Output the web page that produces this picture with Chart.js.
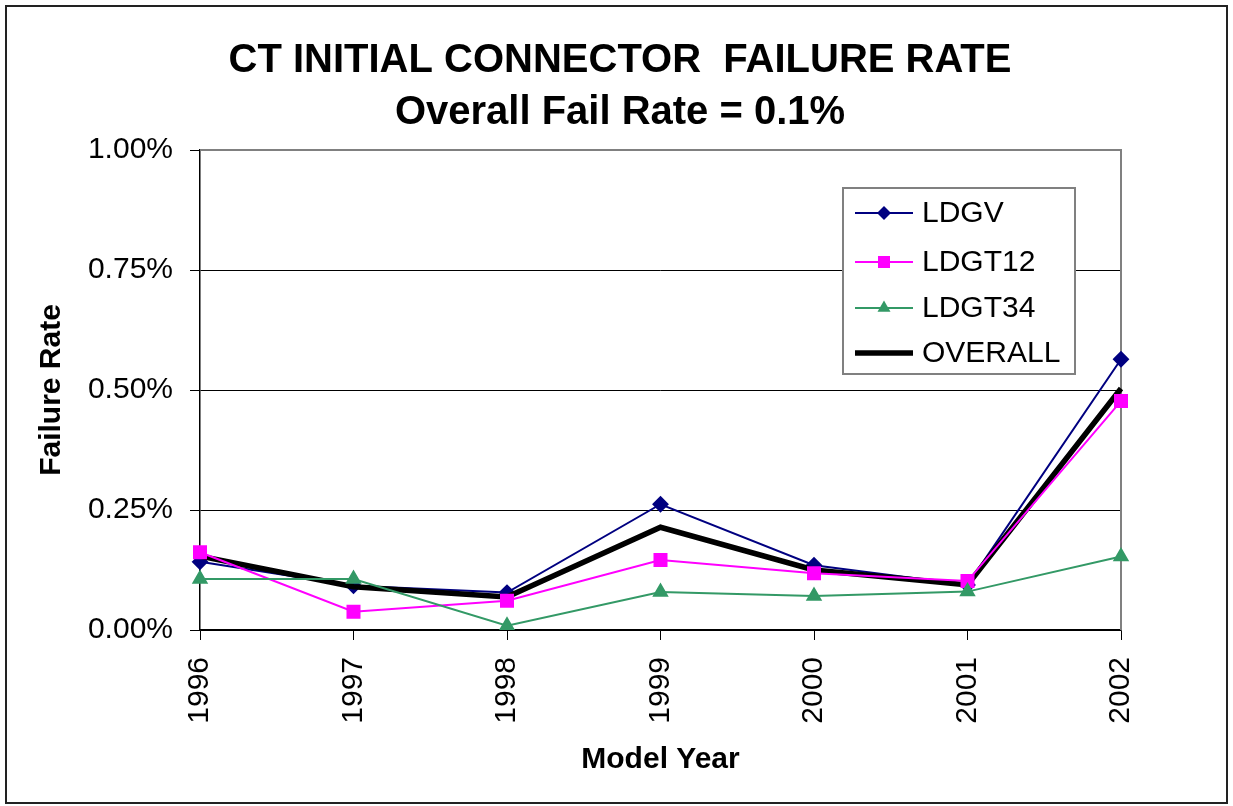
<!DOCTYPE html>
<html>
<head>
<meta charset="utf-8">
<script src="https://cdn.jsdelivr.net/npm/chart.js@4/dist/chart.umd.min.js"></script>
<style>
  body { margin: 0; background: #fff; }
  #wrap { width: 1233px; height: 806px; }
</style>
</head>
<body>
<div id="wrap"><canvas id="failChart" width="1233" height="806"></canvas></div>
<script>
// model years on the category axis
var years = ['1996', '1997', '1998', '1999', '2000', '2001', '2002'];

// failure rate in percent
var ldgv    = [0.142, 0.092, 0.078, 0.262, 0.135, 0.094, 0.564];
var ldgt12  = [0.162, 0.038, 0.061, 0.146, 0.118, 0.102, 0.477];
var ldgt34  = [0.106, 0.106, 0.009, 0.079, 0.071, 0.080, 0.153];
var overall = [0.154, 0.090, 0.069, 0.214, 0.125, 0.094, 0.503];

var titleLines = ['CT INITIAL CONNECTOR  FAILURE RATE', 'Overall Fail Rate = 0.1%'];
var yTicks = [0, 0.25, 0.5, 0.75, 1.0];

const FONT = '"Liberation Sans", Arial, sans-serif';

// marker drawing shared by the legend box
function drawMarker(ctx, style, x, y, r, color) {
  ctx.save();
  ctx.fillStyle = color;
  ctx.beginPath();
  if (style === 'rectRot') {
    ctx.moveTo(x - r, y); ctx.lineTo(x, y - r); ctx.lineTo(x + r, y); ctx.lineTo(x, y + r);
  } else if (style === 'rect') {
    var s = r * Math.SQRT1_2;
    ctx.rect(x - s, y - s, 2 * s, 2 * s);
  } else if (style === 'triangle') {
    ctx.moveTo(x, y - r);
    ctx.lineTo(x + Math.sin(2 * Math.PI / 3) * r, y + r / 2);
    ctx.lineTo(x - Math.sin(2 * Math.PI / 3) * r, y + r / 2);
  }
  ctx.closePath();
  ctx.fill();
  ctx.restore();
}

// frame, title, grey plot border and the boxed legend inside the plot
var decorPlugin = {
  id: 'decor',
  beforeDraw: function(chart) {
    var ctx = chart.ctx;
    ctx.save();
    ctx.fillStyle = '#fff';
    ctx.fillRect(0, 0, chart.width, chart.height);
    ctx.strokeStyle = '#222';
    ctx.lineWidth = 2;
    ctx.strokeRect(6, 6, chart.width - 12, chart.height - 9);

    ctx.fillStyle = '#000';
    ctx.font = 'bold 40px ' + FONT;
    ctx.textAlign = 'center';
    ctx.textBaseline = 'middle';
    ctx.fillText(titleLines[0], 620, 61);
    ctx.fillText(titleLines[1], 620, 113);
    ctx.restore();
  },
  beforeDatasetsDraw: function(chart) {
    var ctx = chart.ctx, a = chart.chartArea;
    ctx.save();
    ctx.strokeStyle = '#808080';
    ctx.lineWidth = 2;
    ctx.beginPath();
    ctx.moveTo(a.left, a.top);
    ctx.lineTo(a.right, a.top);
    ctx.lineTo(a.right, a.bottom);
    ctx.stroke();
    ctx.restore();
  },
  afterDraw: function(chart) {
    var ctx = chart.ctx, a = chart.chartArea;
    var bx = a.right - 278, by = a.top + 38, bw = 232, bh = 186;
    ctx.save();
    ctx.fillStyle = '#fff';
    ctx.fillRect(bx, by, bw, bh);
    ctx.strokeStyle = '#808080';
    ctx.lineWidth = 2;
    ctx.strokeRect(bx, by, bw, bh);
    ctx.font = '30px ' + FONT;
    ctx.textAlign = 'left';
    ctx.textBaseline = 'middle';
    var rows = [25, 74, 120, 165];
    chart.data.datasets.forEach(function(ds, i) {
      var y = by + rows[i];
      ctx.strokeStyle = ds.borderColor;
      ctx.lineWidth = ds.borderWidth;
      ctx.beginPath();
      ctx.moveTo(bx + 12, y);
      ctx.lineTo(bx + 70, y);
      ctx.stroke();
      if (ds.pointRadius > 0) {
        drawMarker(ctx, ds.pointStyle, bx + 41, y, ds.pointRadius, ds.borderColor);
      }
      ctx.fillStyle = '#000';
      ctx.fillText(ds.label, bx + 79, y + 1);
    });
    ctx.restore();
  }
};

var config = {
  type: 'line',
  data: {
    labels: years,
    datasets: [
      { label: 'LDGV', data: ldgv, borderColor: '#000080', backgroundColor: '#000080',
        borderWidth: 2, pointStyle: 'rectRot', pointRadius: 7, order: 4 },
      { label: 'LDGT12', data: ldgt12, borderColor: '#FF00FF', backgroundColor: '#FF00FF',
        borderWidth: 2, pointStyle: 'rect', pointRadius: 8.5, order: 2 },
      { label: 'LDGT34', data: ldgt34, borderColor: '#339966', backgroundColor: '#339966',
        borderWidth: 2, pointStyle: 'triangle', pointRadius: 7.5, order: 1 },
      { label: 'OVERALL', data: overall, borderColor: '#000000', backgroundColor: '#000000',
        borderWidth: 5.5, pointRadius: 0, order: 3 }
    ]
  },
  options: {
    responsive: false,
    animation: false,
    events: [],
    elements: {
      line: { tension: 0, fill: false },
      point: { borderWidth: 0, hoverRadius: 0 }
    },
    layout: { padding: { left: 0, right: 112, top: 150, bottom: 0 } },
    plugins: {
      legend: { display: false },
      title: { display: false },
      tooltip: { enabled: false }
    },
    scales: {
      x: {
        offset: false,
        afterFit: function(scale) { scale.height = 176; },
        grid: { drawOnChartArea: false, drawTicks: true, tickLength: 10, color: '#000', lineWidth: 1 },
        border: { color: '#000', width: 1.5 },
        ticks: {
          autoSkip: false, minRotation: 90, maxRotation: 90, padding: 17,
          color: '#000', font: { family: FONT, size: 30 }
        },
        title: {
          display: true, text: 'Model Year', color: '#000',
          font: { family: FONT, size: 30, weight: 'bold' },
          padding: { top: 0, bottom: 28 }
        }
      },
      y: {
        min: 0,
        max: 1.0,
        afterFit: function(scale) { scale.width = 200; },
        afterBuildTicks: function(scale) {
          scale.ticks = yTicks.map(function(v) { return { value: v }; });
        },
        grid: { color: '#000', lineWidth: 1, tickLength: 10 },
        border: { color: '#000', width: 1.5 },
        ticks: {
          padding: 17, color: '#000', font: { family: FONT, size: 30 },
          callback: function(v) { return v.toFixed(2) + '%'; }
        },
        title: {
          display: true, text: 'Failure Rate', color: '#000',
          font: { family: FONT, size: 30, weight: 'bold' },
          padding: { top: 34, bottom: 0 }
        }
      }
    }
  },
  plugins: [decorPlugin]
};

var failChart = new Chart(document.getElementById('failChart'), config);
</script>
</body>
</html>
